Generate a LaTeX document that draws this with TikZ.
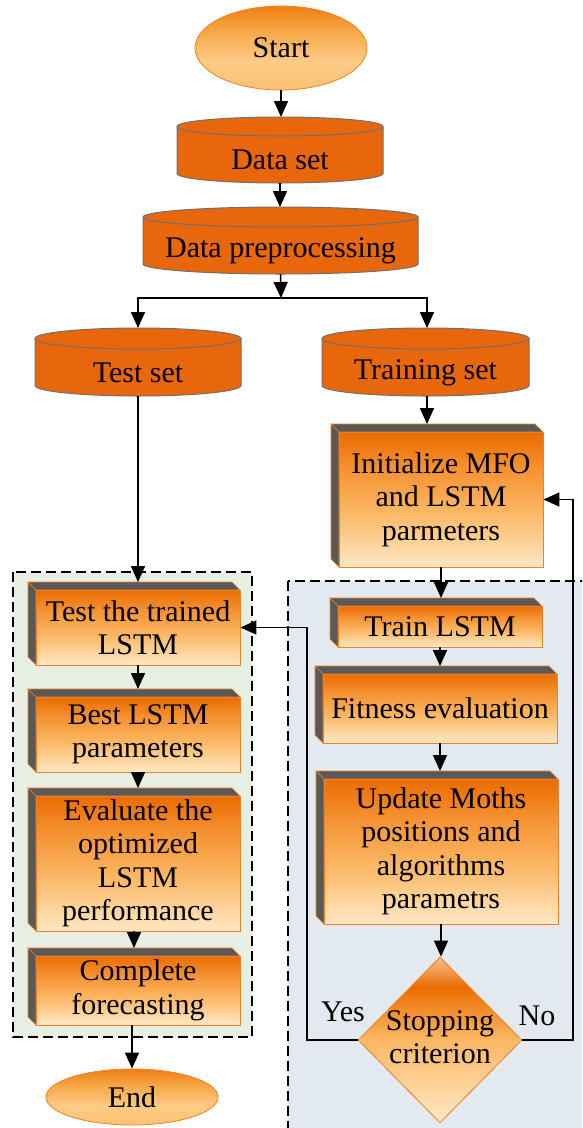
\documentclass[tikz,border=0pt]{standalone}
\usepackage{fontspec}
\setmainfont{Liberation Serif}
\usetikzlibrary{arrows.meta,shapes.geometric}

% palette
\definecolor{cylfill}{HTML}{E8670A}
\definecolor{cylline}{HTML}{707070}
\definecolor{boxline}{HTML}{F08020}
\definecolor{sidegray}{HTML}{595959}
\definecolor{greenbg}{HTML}{E6EFE2}
\definecolor{bluebg}{HTML}{E2EAEF}
\definecolor{boxA}{HTML}{FFE8C4}
\definecolor{boxB}{HTML}{FBB865}
\definecolor{boxC}{HTML}{F59030}
\definecolor{boxD}{HTML}{EA6C00}
\definecolor{diaTip}{HTML}{F6C29A}
\definecolor{ellA}{HTML}{FBC274}
\definecolor{ellB}{HTML}{FCCB86}
\definecolor{ellC}{HTML}{F7A848}
\definecolor{ellD}{HTML}{EF7E12}

% vertical shadings (stops run bottom to top, path fills 25bp..75bp)
\pgfdeclareverticalshading{boxshade}{100bp}{color(0bp)=(boxA); color(25bp)=(boxA); color(45bp)=(boxB); color(62bp)=(boxC); color(75bp)=(boxD); color(100bp)=(boxD)}
\pgfdeclareverticalshading{diashade}{100bp}{color(0bp)=(boxA); color(25bp)=(boxA); color(50bp)=(boxB); color(66bp)=(boxD); color(75bp)=(diaTip); color(100bp)=(diaTip)}
\pgfdeclareverticalshading{ellshade}{100bp}{color(0bp)=(ellA); color(25bp)=(ellA); color(42bp)=(ellB); color(60bp)=(ellC); color(75bp)=(ellD); color(100bp)=(ellD)}

\tikzset{
  txt/.style={font=\fontsize{30}{33.5}\selectfont, align=center, inner sep=0pt},
  arr/.style={line width=1.5pt, -{Triangle[length=16pt,width=14pt]}},
  dashbox/.style={draw=black, line width=1.3pt, dash pattern=on 10pt off 5pt},
  frontbox/.style={txt, shading=boxshade, draw=boxline, line width=0.8pt},
  sideface/.style={fill=sidegray, draw=boxline, line width=0.6pt},
  cylbody/.style={fill=cylfill, draw=cylline, line width=1pt},
  terminal/.style={txt, ellipse, shading=ellshade, draw=boxline, line width=0.8pt},
  decision/.style={diamond, shading=diashade, draw=boxline, line width=0.8pt, inner sep=0pt},
}

% cylinder: name, left, top, right, bottom, end radius, text
\newcommand{\cylnode}[7]{%
  \path[cylbody] (#2,#3+#6) -- (#2,#5-#6)
    arc[start angle=180,end angle=0,x radius={(#4-#2)/2},y radius=#6]
    -- (#4,#3+#6)
    arc[start angle=0,end angle=-180,x radius={(#4-#2)/2},y radius=#6] -- cycle;
  \draw[cylline, line width=1pt] (#2,#3+#6)
    arc[start angle=180,end angle=0,x radius={(#4-#2)/2},y radius=#6];
  \node[txt, minimum width={#4-#2}, minimum height={#5-#3-2*#6}] (#1)
    at ({(#2+#4)/2},{(#3+2*#6+#5)/2}) {#7};
  \coordinate (#1-top) at ({(#2+#4)/2},#3);
}

% raised box: name, left, top, right, bottom, text (depth 8)
\newcommand{\depthbox}[6]{%
  \path[sideface] (#2,#3) -- (#4-8,#3) -- (#4,#3+8) -- (#2+8,#3+8) -- cycle;
  \path[sideface] (#2,#3) -- (#2+8,#3+8) -- (#2+8,#5) -- (#2,#5-8) -- cycle;
  \node[frontbox, minimum width={#4-#2-8}, minimum height={#5-#3-8}] (#1)
    at ({(#2+8+#4)/2},{(#3+8+#5)/2}) {#6};
  \coordinate (#1-top) at ({(#2+8+#4)/2},#3);
}

\begin{document}
\begin{tikzpicture}[x=1pt,y=-1pt]
\useasboundingbox (0,0) rectangle (582,1128);
\fill[white] (0,0) rectangle (582,1128);
\clip (0,0) rectangle (582,1128);

% group frames
\draw[dashbox, fill=greenbg] (13,572) rectangle (252,1037);
\draw[dashbox, fill=bluebg] (288,581) rectangle (610,1160);

% terminals and data stores
\node[terminal, minimum width=172, minimum height=84] (start) at (281,48) {Start};
\cylnode{dataset}{177}{117}{383}{183}{9.5}{Data set}
\cylnode{prep}{143}{207}{418}{274}{10}{Data preprocessing}
\cylnode{testset}{35}{328}{241}{396}{10.5}{Test set}
\cylnode{trainset}{322}{328}{529}{396}{10.5}{Training set}

% optimisation loop
\depthbox{init}{331}{424}{543}{567}{Initialize MFO\\and LSTM\\parmeters}
\depthbox{train}{330}{598}{542}{647}{Train LSTM}
\depthbox{fit}{315}{666}{557}{743}{Fitness evaluation}
\depthbox{update}{316}{771}{558}{924}{Update Moths\\positions and\\algorithms\\parametrs}
\node[decision, minimum width=164, minimum height=166] (stop) at (440,1040) {};
\node[txt] (stoptxt) at (440,1037) {Stopping\\criterion};

% testing branch
\depthbox{testbox}{28}{582}{240}{665}{Test the trained\\LSTM}
\depthbox{best}{28}{689}{240}{772}{Best LSTM\\parameters}
\depthbox{eval}{28}{788}{240}{931}{Evaluate the\\optimized\\LSTM\\performance}
\depthbox{complete}{28}{948}{240}{1025}{Complete\\forecasting}
\node[terminal, minimum width=172, minimum height=56] (finish) at (132,1097) {End};

\node[txt] (yes) at (343,1012) {Yes};
\node[txt] (no) at (537,1016) {No};

% connectors
\coordinate (fork) at (281,298);
\coordinate (yesturn) at (307,1040);
\coordinate (noturn) at (573,1040);

\draw[arr] (start.south) -- (start.south |- dataset-top);
\draw[arr] (dataset.south) -- (dataset.south |- prep-top);
\draw[arr] (prep.south) -- (fork);
\draw[arr] (fork) -| (testset-top);
\draw[arr] (fork) -| ([xshift=1.5pt]trainset-top);
\draw[arr] (testset.south) -- (testset.south |- testbox-top);
\draw[arr] ([xshift=1.5pt]trainset.south) -- ([xshift=1.5pt]trainset.south |- init-top);
\draw[arr] (init.south) -- (init.south |- train-top);
\draw[arr] (train.south) -- (train.south |- fit-top);
\draw[arr] (fit.south) -- (fit.south |- update-top);
\draw[arr] (update.south) -- (update.south |- stop.north);
\draw[arr] (stop.west) -- (yesturn) |- (testbox.east);
\draw[arr] (stop.east) -- (noturn) |- (init.east);
\draw[arr] (testbox.south) -- (testbox.south |- best-top);
\draw[arr] (best.south) -- (best.south |- eval-top);
\draw[arr] ([xshift=-4pt]eval.south) -- ([xshift=-4pt]eval.south |- complete-top);
\draw[arr] (finish.north |- complete.south) -- (finish.north);
\end{tikzpicture}
\end{document}
